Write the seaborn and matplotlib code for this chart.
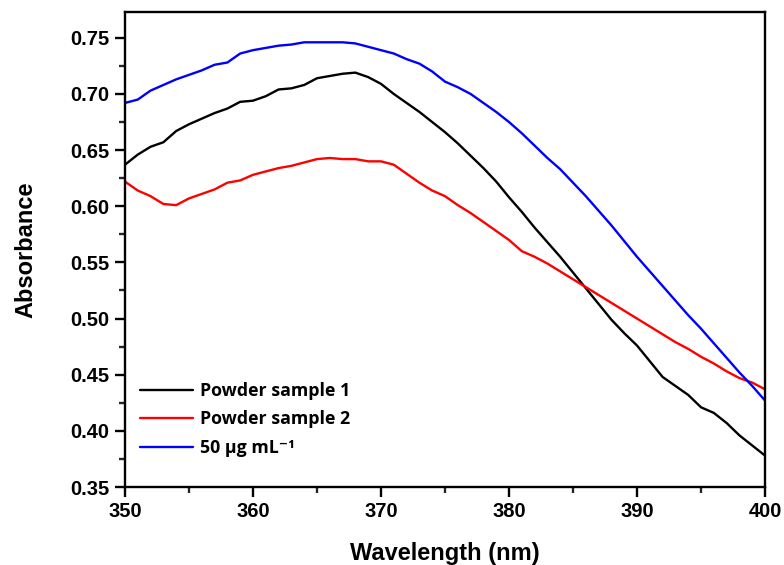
import matplotlib
matplotlib.use("Agg")
import matplotlib.pyplot as plt
from matplotlib.ticker import MultipleLocator, FormatStrFormatter
import seaborn as sns
import pandas as pd
import numpy as np

wavelength = list(range(350, 401))

powder_1 = [0.637, 0.646, 0.653, 0.657, 0.667, 0.673, 0.678, 0.683, 0.687, 0.693,
            0.694, 0.698, 0.704, 0.705, 0.708, 0.714, 0.716, 0.718, 0.719, 0.715,
            0.709, 0.700, 0.692, 0.684, 0.675, 0.666, 0.656, 0.645, 0.634, 0.622,
            0.608, 0.595, 0.581, 0.568, 0.555, 0.541, 0.527, 0.513, 0.499, 0.487,
            0.476, 0.462, 0.448, 0.440, 0.432, 0.421, 0.416, 0.407, 0.396, 0.387,
            0.378]
powder_2 = [0.622, 0.614, 0.609, 0.602, 0.601, 0.607, 0.611, 0.615, 0.621, 0.623,
            0.628, 0.631, 0.634, 0.636, 0.639, 0.642, 0.643, 0.642, 0.642, 0.640,
            0.640, 0.637, 0.629, 0.621, 0.614, 0.609, 0.601, 0.594, 0.586, 0.578,
            0.570, 0.560, 0.555, 0.549, 0.542, 0.535, 0.528, 0.521, 0.514, 0.507,
            0.500, 0.493, 0.486, 0.479, 0.473, 0.466, 0.460, 0.453, 0.447, 0.443,
            0.437]
solution_50 = [0.692, 0.695, 0.703, 0.708, 0.713, 0.717, 0.721, 0.726, 0.728, 0.736,
               0.739, 0.741, 0.743, 0.744, 0.746, 0.746, 0.746, 0.746, 0.745, 0.742,
               0.739, 0.736, 0.731, 0.727, 0.720, 0.711, 0.706, 0.700, 0.692, 0.684,
               0.675, 0.665, 0.654, 0.643, 0.633, 0.621, 0.609, 0.596, 0.583, 0.569,
               0.555, 0.542, 0.529, 0.516, 0.503, 0.491, 0.478, 0.465, 0.452, 0.440,
               0.427]

labels = ['Powder sample 1', 'Powder sample 2', '50 \u03bcg mL\u207b\u00b9']
colors = ['#000000', '#ff0000', '#0000ff']

df = pd.DataFrame({
    'Wavelength': wavelength * 3,
    'Absorbance': powder_1 + powder_2 + solution_50,
    'Sample': [labels[0]] * 51 + [labels[1]] * 51 + [labels[2]] * 51,
})

sns.set_style("ticks")
plt.rcParams['font.family'] = ['Liberation Sans', 'DejaVu Sans']
plt.rcParams['font.weight'] = 'bold'
plt.rcParams['text.color'] = 'black'
plt.rcParams['axes.labelcolor'] = 'black'

fig = plt.figure(figsize=(7.84, 5.65), dpi=100)
ax = fig.add_axes([0.1594, 0.138, 0.8164, 0.8408])

sns.lineplot(data=df, x='Wavelength', y='Absorbance', hue='Sample',
             palette=dict(zip(labels, colors)), linewidth=1.7, ax=ax)

ax.set_xlim(350, 400)
ax.set_ylim(0.35, 0.773)
ax.xaxis.set_major_locator(MultipleLocator(10))
ax.xaxis.set_minor_locator(MultipleLocator(5))
ax.yaxis.set_major_locator(MultipleLocator(0.05))
ax.yaxis.set_minor_locator(MultipleLocator(0.025))
ax.yaxis.set_major_formatter(FormatStrFormatter('%.2f'))

for s in ax.spines.values():
    s.set_linewidth(1.7)
    s.set_color('black')
ax.tick_params(which='major', direction='out', length=7.5, width=1.7,
               labelsize=14.5, colors='black', pad=3.5)
ax.tick_params(which='minor', direction='out', length=4.5, width=1.7)
for t in ax.get_xticklabels() + ax.get_yticklabels():
    t.set_fontweight('bold')

ax.set_xlabel('Wavelength (nm)', fontsize=17, fontweight='bold', labelpad=15)
ax.set_ylabel('Absorbance', fontsize=17, fontweight='bold', labelpad=24)

leg = ax.legend(loc='lower left', bbox_to_anchor=(-0.002, 0.03), frameon=False,
                handlelength=3.0, labelspacing=0.58, handletextpad=0.4,
                prop={'family': ['Open Sans', 'DejaVu Sans'], 'weight': 'bold', 'size': 12.8})

fig.savefig('out.png', dpi=100)
